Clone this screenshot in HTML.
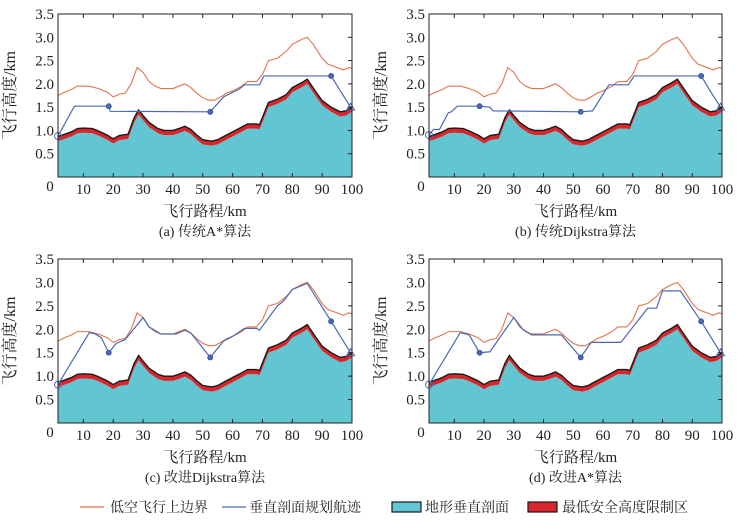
<!DOCTYPE html>
<html><head><meta charset="utf-8">
<style>
body{margin:0;background:#fff;}
svg{display:block;}
text{font-family:"Liberation Serif","Noto Serif CJK SC",serif;fill:#222;}
</style></head>
<body>
<svg id="c" width="744" height="525" viewBox="0 0 744 525" xmlns="http://www.w3.org/2000/svg"></svg>
<script>
const xTicks=[10,20,30,40,50,60,70,80,90,100];
const yTicks=[0.5,1.0,1.5,2.0,2.5,3.0,3.5];
const yTickLabels=["0.5","1.0","1.5","2.0","2.5","3.0","3.5"];
const terrX=[1.5,3,6,8,10,13,15,18,20,22,25,27,28.5,30,32,35,37,40,42,44,46,48,50,53,55,57,60,63,65,68,69,72,75,78,80,83,85,88,90,93,96,98,100];
const terrY=[0.77,0.8,0.87,0.94,0.95,0.94,0.89,0.8,0.72,0.79,0.82,1.17,1.34,1.22,1.07,0.94,0.9,0.9,0.94,0.99,0.92,0.8,0.7,0.67,0.7,0.77,0.87,0.97,1.04,1.04,1.02,1.5,1.57,1.67,1.82,1.92,2.0,1.72,1.54,1.4,1.3,1.32,1.4];
const safeMargin=0.1;
const upX=[1.5,3,6,8,12,15,18,20,22,24,26,28,30,32,34,36,40,42,44,46,48,50,52,54,56,58,60,63,65,68,70,72,75,78,80,83,85,87,90,92,95,97,99,100];
const upY=[1.75,1.8,1.88,1.95,1.95,1.9,1.82,1.72,1.78,1.8,2.0,2.35,2.25,2.05,1.95,1.9,1.9,1.95,2.0,1.92,1.8,1.7,1.65,1.65,1.72,1.8,1.85,1.95,2.05,2.05,2.2,2.5,2.55,2.7,2.85,2.95,3.0,2.85,2.55,2.42,2.35,2.3,2.35,2.33];
const pathAX=[1.5,7,18.5,19,52.5,57,62,64,69,70.5,93,99.5];
const pathAY=[0.88,1.52,1.52,1.41,1.40,1.72,1.88,1.98,1.98,2.17,2.17,1.5];
const pathBX=[1.5,3,5,8,9,11,18.5,22,23,52.5,56.5,61,62,68.5,70.5,93,96,99.5];
const pathBY=[0.9,1.02,1.02,1.38,1.4,1.52,1.52,1.5,1.42,1.40,1.42,1.88,1.98,1.98,2.17,2.17,1.85,1.5];
const pathCX=[1.5,12,14,16,18.5,21,24,30,32,36,41,44,46,52.5,57,60,64,68,69,75,77,80,85,93,99.5];
const pathCY=[0.82,1.93,1.9,1.82,1.5,1.7,1.78,2.25,2.05,1.9,1.9,1.98,1.92,1.40,1.75,1.85,2.02,2.02,1.98,2.5,2.6,2.85,2.98,2.17,1.5];
const pathDX=[1.5,12,15,18.5,22,30,33,36,46,52.5,56,66,75,78,80,86,93,99.5];
const pathDY=[0.82,1.93,1.88,1.5,1.52,2.25,2.0,1.88,1.88,1.40,1.72,1.72,2.45,2.45,2.82,2.82,2.17,1.5];
const wayX=[18.5,52.5,93];

const NS="http://www.w3.org/2000/svg";
const svg=document.getElementById('c');
function mk(tag,attrs,parent){const e=document.createElementNS(NS,tag);for(const k in attrs)e.setAttribute(k,attrs[k]);(parent||svg).appendChild(e);return e;}
function interp(xs,ys,x){for(let i=0;i<xs.length-1;i++){if(x>=xs[i]&&x<=xs[i+1]){const t=(x-xs[i])/(xs[i+1]-xs[i]);return ys[i]+t*(ys[i+1]-ys[i]);}}return ys[ys.length-1];}

const panels=[
 {L:58,R:352,T:14,B:177,px:pathAX,py:pathAY,cap:"(a) 传统A*算法",n:"a"},
 {L:429,R:722,T:14,B:177,px:pathBX,py:pathBY,cap:"(b) 传统Dijkstra算法",n:"b"},
 {L:58,R:352,T:259,B:423,px:pathCX,py:pathCY,cap:"(c) 改进Dijkstra算法",n:"c"},
 {L:429,R:722,T:259,B:423,px:pathDX,py:pathDY,cap:"(d) 改进A*算法",n:"d"}
];
panels.forEach(p=>{
 const g=mk('g',{});
 
 
 const x0=1.5,x1=100;
 const sx=v=>p.L+(v-x0)/(x1-x0)*(p.R-p.L);
 const sy=v=>p.B-v/3.5*(p.B-p.T);
 let d=`M${sx(terrX[0])},${p.B}`;terrX.forEach((x,i)=>d+=` L${sx(x)},${sy(terrY[i])}`);d+=` L${sx(100)},${p.B}Z`;
 let t=mk('path',{d:d,fill:'#62c6d2'},g);
 
 
 let up='',dn='';
 terrX.forEach((x,i)=>{up+=(i?' L':'M')+sx(x)+','+sy(terrY[i]+safeMargin);});
 for(let i=terrX.length-1;i>=0;i--)dn+=' L'+sx(terrX[i])+','+sy(terrY[i]);
 let r=mk('path',{d:up+dn+'Z',fill:'#d8262c'},g);
 
 
 let o=mk('path',{d:up,fill:'none',stroke:'#1a1a1a','stroke-width':1.4},g);
 
 
 let ud='';upX.forEach((x,i)=>ud+=(i?' L':'M')+sx(x)+','+sy(upY[i]));
 let u=mk('path',{d:ud,fill:'none',stroke:'#e2744e','stroke-width':1.1},g);
 
 
 let pd='';p.px.forEach((x,i)=>pd+=(i?' L':'M')+sx(x)+','+sy(p.py[i]));
 let pl=mk('path',{d:pd,fill:'none',stroke:'#4a68b4','stroke-width':1.2},g);
 
 
 wayX.forEach(wx=>{const wy=interp(p.px,p.py,wx);
  let c=mk('circle',{cx:sx(wx),cy:sy(wy),r:2.6,fill:'#4a68b4',stroke:'#2c4a90','stroke-width':0.6},g);
  
  });
 const s0x=sx(p.px[0]),s0y=sy(p.py[0]);
 let sc=mk('circle',{cx:s0x,cy:s0y,r:3.5,fill:'none',stroke:'#4a68b4','stroke-width':1},g);
 
 
 const ex=sx(p.px[p.px.length-1]),ey=sy(p.py[p.py.length-1]);
 let et=mk('path',{d:`M${ex-4},${ey+3} L${ex+4},${ey+3} L${ex},${ey-4}Z`,fill:'none',stroke:'#4a68b4','stroke-width':1},g);
 
 
 let f=mk('rect',{x:p.L,y:p.T,width:p.R-p.L,height:p.B-p.T,fill:'none',stroke:'#222','stroke-width':1},g);
 
 
 yTicks.forEach((v,i)=>{const y=sy(v);
  mk('line',{x1:p.R,x2:p.R-4,y1:y,y2:y,stroke:'#222'},g);
  let tl=mk('text',{x:p.L-4,y:y+5,'text-anchor':'end','font-size':15},g);
  tl.textContent=yTickLabels[i];
  
  });
 xTicks.forEach(v=>{const x=sx(v);
  mk('line',{x1:x,x2:x,y1:p.B,y2:p.B-4,stroke:'#222'},g);
  mk('line',{x1:x,x2:x,y1:p.T,y2:p.T+4,stroke:'#222'},g);
  let tl=mk('text',{x:x,y:p.B+17,'text-anchor':'middle','font-size':15},g);
  tl.textContent=String(v);
  
  });
 let z=mk('text',{x:p.L-8,y:p.B+14,'text-anchor':'middle','font-size':15},g);z.textContent='0';
 
 
 let yt=mk('text',{x:0,y:0,transform:`translate(${p.L-43},${(p.T+p.B)/2}) rotate(-90)`,'text-anchor':'middle','font-size':16},g);
 yt.textContent='飞行高度/km';
 
 
 let xt=mk('text',{x:(p.L+p.R)/2,y:p.B+39,'text-anchor':'middle','font-size':15},g);
 xt.textContent='飞行路程/km';
 
 
 let cp=mk('text',{x:(p.L+p.R)/2,y:p.B+59,'text-anchor':'middle','font-size':14},g);
 cp.textContent=p.cap;
 
 
});
const lg=mk('g',{});


const ly=507;
mk('line',{x1:80,x2:104,y1:ly,y2:ly,stroke:'#e2744e','stroke-width':1.3},lg);
mk('line',{x1:222,x2:246,y1:ly,y2:ly,stroke:'#4a68b4','stroke-width':1.3},lg);
mk('rect',{x:392,y:ly-5,width:29,height:10,fill:'#62c6d2',stroke:'#1a1a1a','stroke-width':1.2},lg);
mk('rect',{x:528,y:ly-5,width:29,height:10,fill:'#d8262c',stroke:'#1a1a1a','stroke-width':1.2},lg);
[[110,'低空飞行上边界'],[249,'垂直剖面规划航迹'],[425,'地形垂直剖面'],[562,'最低安全高度限制区']].forEach(a=>{
 let t=mk('text',{x:a[0],y:ly+5,'font-size':14},lg);t.textContent=a[1];
 
 });
</script>
</body></html>
